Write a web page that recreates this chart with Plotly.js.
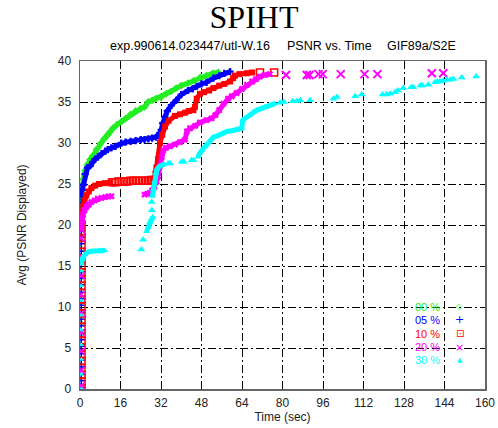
<!DOCTYPE html>
<html><head><meta charset="utf-8">
<script src="https://cdn.plot.ly/plotly-3.0.1.min.js"></script>
<style>html,body{margin:0;padding:0;background:#fff}#chart{width:498px;height:428px}</style>
</head><body><div id="chart"></div>
<script>
// ---- tick labels ----
const xTicks = [0, 16, 32, 48, 64, 80, 96, 112, 128, 144, 160];
const yTicks = [0, 5, 10, 15, 20, 25, 30, 35, 40];
const seriesNames = ['00 %', '05 %', '10 %', '20 %', '30 %'];

// ---- 00 % (green) ----
const g00ColT = [0.4,0.4,0.4,0.4,0.4,0.4,0.4,0.4,0.4,0.4,0.4,0.4,0.4,0.4,0.4,0.4,0.4,0.4];
const g00ColP = [0.3,1.5,2.8,4.1,5.4,6.7,8.0,9.3,10.6,11.9,13.2,14.5,15.8,17.1,18.4,19.7,21.0,22.0];
const g00T = [0.4,0.8,1.3,2,3,4,5,6.5,8,9.5,11,11.7,13,14.5,16.3,18,20,22,24,25.5,26.9,28.5,30,32,34,36,38,40,42.7,45,47.5,50,52.5,54.6];
const g00P = [22.5,24.3,25.6,26.6,27.4,28.0,28.4,29.2,29.9,30.5,31.0,31.3,31.8,32.2,32.6,33.0,33.5,33.9,34.2,34.4,35.0,35.2,35.4,35.6,36.0,36.3,36.7,37.0,37.3,37.6,38.0,38.2,38.5,38.6];

// ---- 05 % (blue) ----
const b05ColT = [0.5,0.5,0.5,0.5,0.5,0.5,0.5,0.5,0.5,0.5,0.5,0.5,0.5,0.5,0.5,0.5,0.5,0.5,0.5,0.5,0.5,0.5,0.5,0.5,0.5,0.5,0.5,0.5,0.5];
const b05ColP = [0.2,1.0,1.8,2.7,3.5,4.3,5.2,6.0,6.8,7.7,8.5,9.3,10.2,11.0,11.8,12.7,13.5,14.3,15.2,16.0,16.8,17.7,18.5,19.3,20.2,21.0,21.8,22.7,23.5];
const b05T = [0.5,0.9,1.3,2,3,4,5,5.9,7.1,8.5,10,11,12.4,14,16.3,18,20,22,24,25.5,27,28.5,30,30.8,31.5,32.1,32.7,33.5,34.5,36.1,38,40,42.7,44.5,46.1,48,50,52.7,55,57,59.3];
const b05P = [23.8,24.3,24.9,26.2,27.0,27.2,27.7,28.0,28.3,28.7,29.0,29.2,29.4,29.6,30.0,30.1,30.2,30.3,30.4,30.4,30.5,30.6,30.7,30.9,31.2,31.6,32.4,33.2,33.9,34.6,35.2,35.9,36.4,36.6,36.9,37.2,37.4,37.9,38.2,38.5,38.7];

// ---- 10 % (red) ----
const r10ColT = [0.6,0.6,0.6,0.6,0.6,0.6,0.6,0.6,0.6,0.6,0.6,0.6,0.6,0.6,0.6,0.6,0.6,0.6,0.6,0.6,0.6,0.6,0.6,0.6,0.6];
const r10ColP = [0.1,0.9,1.7,2.6,3.4,4.2,5.1,5.9,6.7,7.6,8.4,9.2,10.1,10.9,11.7,12.6,13.4,14.2,15.1,15.9,16.7,17.6,18.4,19.2,20.1];
const r10T = [0.6,0.9,1.3,1.8,2.5,3.5,4.5,6,7.5,9.8,12,null,29.5,29.8,30.2,30.8,31.6,32.5,33.6,35,37.5,39.5,41.5,43,44.8,45.4,46.1,47.4,49,51,52.7,55,57,59.3,60.5,61.2,63,65.9,68];
const r10P = [20.6,21.5,22.3,23.0,23.6,24.1,24.5,24.8,25.0,25.1,25.2,null,25.5,26.3,27.0,28.0,30.0,31.0,32.0,32.7,33.3,33.5,33.7,33.9,34.0,34.4,35.4,36.0,36.2,36.4,36.7,37.0,37.2,37.5,37.9,38.2,38.4,38.5,38.6];
const r10DotT = [12.8,14,15.2,16.4,17.5,18.7,19.9,21.0,22.2,23.4,24.6,25.7,26.9,28.0,29.1,71.1,76.7];
const r10DotP = [25.2,25.2,25.3,25.3,25.3,25.3,25.4,25.4,25.4,25.4,25.4,25.4,25.4,25.5,25.5,38.6,38.6];

// ---- 20 % (magenta) ----
const m20ColT = [0.5,0.5,0.5,0.5,0.5,0.5,0.5,0.5,0.5,0.5];
const m20ColP = [0.4,2.3,4.6,6.9,9.2,11.5,13.8,16.1,18.4,19.4];
const m20T = [0.5,0.8,1.2,1.8,2.5,3.5,4.5,5.8,7,8.5,10,11.3,12.4,null,25.5,26.5,27.5,28.5,29.5,30.2,30.8,31.6,32.3,32.9,34,35.5,37.5,39.5,41.5,42.2,43.5,45.5,47.4,50,52,53.5,55,56.6,58.5,60,61.9,64,65.9,68,69.5,71.1,73,75];
const m20P = [19.6,20.6,21.3,21.8,22.2,22.5,22.8,23.0,23.2,23.3,23.4,23.5,23.5,null,23.7,23.8,23.9,24.2,24.7,25.3,25.9,27.2,28.3,29.1,29.4,29.6,29.8,30.1,30.4,31.4,31.8,32.1,32.5,32.8,33.0,33.4,34.0,34.8,35.4,35.7,36.1,36.6,37.1,37.5,37.8,38.1,38.3,38.4];
const m20DotT = [81.4,89.6,90.7,94.2,95.9,103,112.4,117.5,139,143.5];
const m20DotP = [38.3,38.3,38.3,38.4,38.4,38.4,38.4,38.4,38.5,38.5];

// ---- 30 % (cyan) ----
const c30ColT = [0.5,0.5,0.5,0.5,0.5,0.5,0.5,0.5,0.5,0.5];
const c30ColP = [0,1.8,3.6,5.4,7.2,9.0,10.8,12.6,14.4,15.2];
const c30T = [0.5,0.8,1.2,2,3.2,4.5,6,7.5,9,9.8,null,26.3,26.9,27.5,28.1,28.8,null,28.6,29.0,29.4,29.8,30.4,31.2,32.3,33.2,null,46.5,47.4,48.1,49.5,51,52.7,54.5,56,58,60,61.9,63.9,64.3,65.5,67,68.5,69.8,71.5,73,75.1,77];
const c30P = [15.3,15.8,16.1,16.4,16.7,16.8,16.8,16.9,16.9,16.9,null,19.2,19.7,20.3,20.7,21.0,null,23.5,24.4,25.3,26.3,26.8,27.1,27.3,27.4,null,28.3,28.9,29.1,29.6,30.1,30.7,30.9,31.1,31.4,31.5,31.6,31.8,32.8,33.1,33.4,33.8,34.0,34.2,34.4,34.6,34.8];
const c30DotT = [24.2,24.9,28.4,28.3,34.9,35.6,40.2,41.0,44.1,44.8,79,80.5,84,85.6,87,90.9,100.1,101.5,108.7,111.3,119.5,121.1,122.5,124.5,125.6,127.7,130.8,131.7,134.5,135.2,137.6,140.3,141.2,142.2,143.5,144.9,146.3,147.5,150.8,156.5];
const c30DotP = [17.0,18.2,21.8,22.8,27.5,27.5,27.7,27.7,27.9,27.9,34.9,35.0,35.1,35.1,35.2,35.2,35.4,35.6,35.7,35.9,35.9,35.9,36.0,36.2,36.4,36.7,36.8,36.8,37.0,37.0,37.1,37.4,37.5,37.5,37.6,37.7,37.7,37.8,38.0,38.1];

const GREEN = '#22ee22', BLUE = '#0000ff', RED = '#ff0000', MAG = '#ff00ff', CYAN = '#00ffff';

function band(x, y, color, symbol) {
  return {x, y, type: 'scatter', mode: 'lines+markers', connectgaps: false, showlegend: false,
    line: {color, width: 5}, marker: {color, symbol, size: 6}, hoverinfo: 'x+y'};
}
function dots(x, y, color, symbol, size, lw) {
  return {x, y, type: 'scatter', mode: 'markers', showlegend: false,
    marker: {color, symbol, size, line: {color, width: lw}}, hoverinfo: 'x+y'};
}

const data = [
  dots(g00ColT, g00ColP, GREEN, 'diamond-open', 5, 1),
  band(g00T, g00P, GREEN, 'diamond'),
  dots(b05ColT, b05ColP, BLUE, 'cross-thin-open', 6, 1.5),
  band(b05T, b05P, BLUE, 'cross'),
  dots(r10ColT, r10ColP, RED, 'square-open', 7, 1.5),
  band(r10T, r10P, RED, 'square'),
  dots(r10DotT, r10DotP, RED, 'square-open', 7, 1.5),
  dots(m20ColT, m20ColP, MAG, 'x-thin-open', 7, 1.5),
  band(m20T, m20P, MAG, 'x'),
  dots(m20DotT, m20DotP, MAG, 'x-thin-open', 8, 2),
  dots(c30ColT, c30ColP, CYAN, 'triangle-up', 5, 0),
  band(c30T, c30P, CYAN, 'triangle-up'),
  dots(c30DotT, c30DotP, CYAN, 'triangle-up', 7, 0)
];

const FONT = 'Liberation Sans, Arial, sans-serif';
const legendColors = [GREEN, BLUE, RED, MAG, CYAN];
const legendGlyphs = ['\u25C7', '+', '\u22A1', '\u00D7', '\u25B2'];
const legendGlyphSize = [8, 11, 10, 11, 7];
const legendY = [0.2515, 0.2104, 0.1692, 0.1280, 0.0869];

const annotations = [
  {text: 'exp.990614.023447/utl-W.16', x: (189.5-80)/405, y: (389-46)/328},
  {text: 'PSNR vs. Time', x: (329.5-80)/405, y: (389-46)/328},
  {text: 'GIF89a/S2E', x: (421.5-80)/405, y: (389-46)/328}
].map(a => Object.assign(a, {xref: 'paper', yref: 'paper', showarrow: false, xanchor: 'center', yanchor: 'middle',
  font: {family: FONT, size: 12.5, color: '#000'}}));

seriesNames.forEach((name, i) => {
  annotations.push({text: name, xref: 'paper', yref: 'paper', x: (441-80)/405, y: legendY[i], xanchor: 'right', yanchor: 'middle',
    borderpad: 0, showarrow: false, font: {family: FONT, size: 11, color: legendColors[i]}});
  annotations.push({text: legendGlyphs[i], xref: 'paper', yref: 'paper', x: (459.5-80)/405, y: legendY[i], xanchor: 'center', yanchor: 'middle',
    borderpad: 0, showarrow: false, font: {family: 'DejaVu Sans, sans-serif', size: legendGlyphSize[i], color: legendColors[i]}});
});

const axisCommon = {
  showgrid: true, gridcolor: '#000', gridwidth: 1, griddash: '8px,3px,2px,3px',
  zeroline: false, showline: true, linecolor: '#666', linewidth: 1.5, mirror: true,
  ticks: 'outside', tickcolor: 'rgba(0,0,0,0)',
  tickfont: {family: FONT, size: 12, color: '#222'}
};

const layout = {
  width: 498, height: 428,
  margin: {l: 80, r: 13, t: 61, b: 39},
  paper_bgcolor: '#fff', plot_bgcolor: '#fff',
  title: {text: 'SPIHT', x: 254/498, xanchor: 'center', y: 1 - 17/428, yanchor: 'middle',
    font: {family: 'Liberation Serif, Times New Roman, serif', size: 32, color: '#000'}},
  xaxis: Object.assign({}, axisCommon, {range: [0, 160], tickvals: xTicks, ticktext: xTicks.map(String), ticklen: 2,
    title: {text: 'Time (sec)', font: {family: FONT, size: 12, color: '#222'}, standoff: 0}}),
  yaxis: Object.assign({}, axisCommon, {range: [0, 40], tickvals: yTicks, ticktext: yTicks.map(String), ticklen: 5,
    title: {text: 'Avg (PSNR Displayed)', font: {family: FONT, size: 12, color: '#222'}, standoff: 28}}),
  annotations,
  showlegend: false
};

Plotly.newPlot('chart', data, layout, {staticPlot: true, displayModeBar: false});
</script></body></html>
